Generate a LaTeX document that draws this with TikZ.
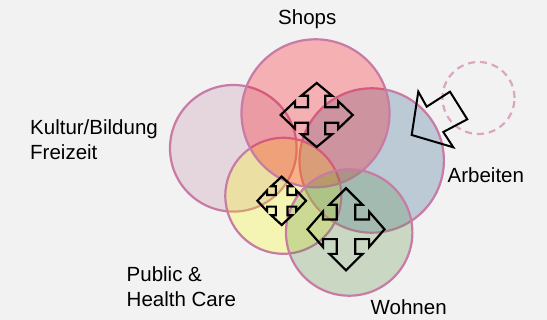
\documentclass[tikz,border=0pt]{standalone}
\usepackage{fontspec}
\setmainfont{Liberation Sans}
\definecolor{bg}{HTML}{F2F2F2}
\definecolor{ringline}{HTML}{C77BA5}
\definecolor{cKultur}{RGB}{196,139,167}
\definecolor{cShops}{RGB}{250,7,18}
\definecolor{cArbeit}{RGB}{49,99,142}
\definecolor{cPublic}{RGB}{255,255,0}
\definecolor{cWohnen}{RGB}{96,146,74}
\definecolor{dashring}{HTML}{DCA5C0}
\tikzset{
  ring/.style={circle, inner sep=0pt, draw=ringline, line width=2.2pt, fill opacity=0.28, text opacity=1},
  lbl/.style={inner sep=0pt, font=\fontsize{20.5}{25}\selectfont, align=left},
  iconline/.style={draw=black, line width=2.2pt, line join=miter},
  moveicon/.pic={
    \def\w{0.24}\def\h{0.43}\def\b{0.6}
    \draw[iconline] (0,1) -- (-\h,\b) -- (-\w,\b) -- (-\w,\w) -- (-\b,\w) -- (-\b,\h) -- (-1,0)
      -- (-\b,-\h) -- (-\b,-\w) -- (-\w,-\w) -- (-\w,-\b) -- (-\h,-\b) -- (0,-1)
      -- (\h,-\b) -- (\w,-\b) -- (\w,-\w) -- (\b,-\w) -- (\b,-\h) -- (1,0)
      -- (\b,\h) -- (\b,\w) -- (\w,\w) -- (\w,\b) -- (\h,\b) -- cycle;
  }
}
\begin{document}
\begin{tikzpicture}[x=1pt, y=-1pt]
\fill[bg] (0,0) rectangle (547,320);
\useasboundingbox (0,0) rectangle (547,320);
% circles (drawing order matters for the overlaps)
\node[ring, fill=cKultur, minimum size=126.6pt] (kultur) at (233.3,148.3) {};
\node[ring, fill=cArbeit, minimum size=144.4pt] (arbeit) at (371.7,160.5) {};
\node[ring, fill=cPublic, fill opacity=0.26, minimum size=116pt] (public) at (283.3,195.8) {};
\node[ring, fill=cShops,  minimum size=148pt]   (shops)  at (315.5,113.3) {};
\node[ring, fill=cWohnen, minimum size=126.4pt] (wohnen) at (349.2,232.5) {};
\node[circle, inner sep=0pt, minimum size=72pt, draw=dashring, line width=2.2pt, dash pattern=on 7pt off 5pt] (spare) at (478.5,98) {};
% hollow arrow pointing into Arbeiten
\coordinate (tip) at (411.7,135);
\draw[iconline, line width=2pt] (tip) -- (418.3,91.7) -- (426.7,106.7) -- (450,91.7) -- (467.3,119.3) -- (443.3,132) -- (453.3,147.3) -- cycle;
% move icons
\pic[xscale=36, yscale=32] at (316.7,115) {moveicon};
\pic[xscale=24.3, yscale=24.2] at (281.7,200.8) {moveicon};
\pic[xscale=38.5, yscale=41] at (346,229.3) {moveicon};
% labels
\node[lbl, anchor=base west] (tShops) at (278,25) {Shops};
\node[lbl, anchor=north west] (tKultur) at (30,119.3) {Kultur/Bildung\\Freizeit};
\node[lbl, anchor=base west] (tArbeit) at (447.5,182.7) {Arbeiten};
\node[lbl, anchor=north west] (tPublic) at (126.5,266) {Public \&\\Health Care};
\node[lbl, anchor=base west] (tWohnen) at (370.5,315) {Wohnen};
\end{tikzpicture}
\end{document}
